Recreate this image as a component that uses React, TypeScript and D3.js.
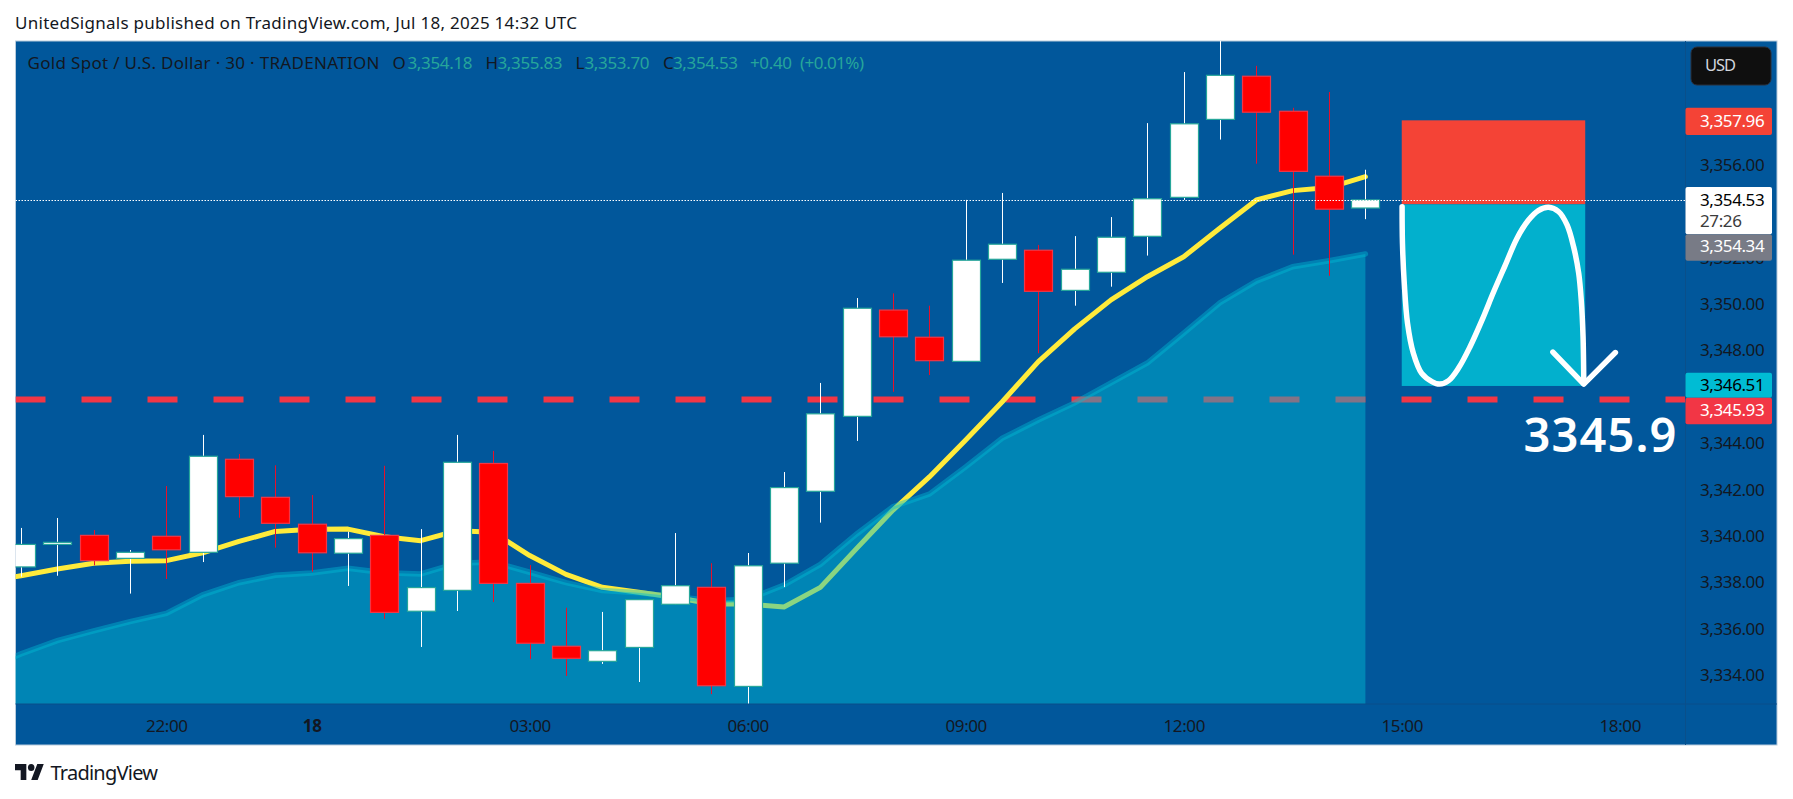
import * as d3 from 'd3'
import { useEffect, useRef } from 'react'

const WIDTH = 1793
const HEIGHT = 799
const FONT = '"Noto Sans", sans-serif'

// 30 min bars, index 0 = 20:00 on Jul 17
const opens = [3338.71, 3339.68, 3340.07, 3339.08, 3340.03, 3339.34, 3343.35, 3341.71, 3340.55, 3339.30, 3340.07, 3336.80, 3337.70, 3343.17, 3338.00, 3335.29, 3334.64, 3335.24, 3337.10, 3337.83, 3333.56, 3338.87, 3341.97, 3345.20, 3349.78, 3348.61, 3347.57, 3351.97, 3352.36, 3350.63, 3351.41, 3352.96, 3354.64, 3358.00, 3359.86, 3358.35, 3355.55, 3354.18]
const highs = [3340.39, 3340.82, 3340.30, 3339.44, 3342.20, 3344.40, 3343.58, 3343.09, 3341.81, 3340.23, 3343.07, 3340.34, 3344.40, 3343.71, 3338.79, 3336.95, 3336.77, 3337.30, 3340.17, 3338.87, 3339.31, 3342.80, 3346.64, 3350.30, 3350.50, 3349.97, 3354.53, 3354.83, 3352.59, 3352.97, 3353.79, 3357.84, 3360.04, 3361.60, 3360.31, 3358.50, 3359.18, 3355.83]
const lows = [3338.29, 3338.33, 3338.78, 3337.56, 3338.19, 3338.92, 3340.83, 3339.54, 3338.51, 3337.89, 3336.47, 3335.26, 3336.81, 3337.20, 3334.74, 3334.01, 3334.53, 3333.75, 3337.10, 3333.23, 3332.80, 3337.84, 3340.62, 3344.14, 3346.26, 3346.98, 3347.57, 3350.95, 3347.92, 3349.97, 3350.79, 3352.13, 3354.53, 3357.13, 3356.09, 3352.17, 3351.26, 3353.70]
const closes = [3339.68, 3339.77, 3338.98, 3339.34, 3339.45, 3343.48, 3341.74, 3340.59, 3339.32, 3339.93, 3336.75, 3337.82, 3343.22, 3338.00, 3335.42, 3334.77, 3335.10, 3337.30, 3337.90, 3333.59, 3338.76, 3342.13, 3345.31, 3349.86, 3348.63, 3347.60, 3351.93, 3352.62, 3350.59, 3351.54, 3352.92, 3354.58, 3357.81, 3359.90, 3358.31, 3355.76, 3354.13, 3354.53]

// both averages start one bar before the first candle, the pane cuts them off
const emaFast = [3338.05, 3338.33, 3338.62, 3338.87, 3338.95, 3338.98, 3339.32, 3339.81, 3340.24, 3340.33, 3340.34, 3340.01, 3339.84, 3340.27, 3340.20, 3339.20, 3338.39, 3337.83, 3337.62, 3337.40, 3337.11, 3337.11, 3336.98, 3337.83, 3339.51, 3341.16, 3342.59, 3344.18, 3345.82, 3347.56, 3348.97, 3350.22, 3351.22, 3352.08, 3353.32, 3354.53, 3354.93, 3355.06, 3355.53]
const emaSlow = [3334.27, 3334.96, 3335.53, 3335.95, 3336.35, 3336.71, 3337.51, 3338.03, 3338.35, 3338.45, 3338.65, 3338.46, 3338.41, 3338.87, 3338.92, 3338.48, 3338.03, 3337.69, 3337.60, 3337.43, 3337.26, 3337.31, 3337.93, 3338.82, 3340.13, 3341.31, 3341.85, 3343.02, 3344.25, 3345.04, 3345.78, 3346.64, 3347.50, 3348.79, 3350.10, 3351.03, 3351.65, 3351.91, 3352.20]

// 3354 and 3346 sit behind the price labels
const priceTicks = [3334, 3336, 3338, 3340, 3342, 3344, 3348, 3350, 3352, 3356]
const timeTickBars = [4, 8, 14, 20, 26, 32, 38, 44]
const timeTickLabels = ['22:00', '18', '03:00', '06:00', '09:00', '12:00', '15:00', '18:00']

const lastPrice = 3354.53
const supportPrice = 3345.93
const stopPrice = 3357.96
const entryPrice = 3354.34
const targetPrice = 3346.51
const boxBars = [38, 43.05]

// hand drawn path on top of the position box
const brushBars = [38.01, 38.02, 38.07, 38.16, 38.32, 38.55, 38.83, 39.04, 39.29, 39.56, 39.88, 40.21, 40.53, 40.85, 41.17, 41.49, 41.76, 42.04, 42.32, 42.55, 42.73, 42.87, 42.94, 42.99, 43.01]
const brushPrices = [3354.24, 3352.66, 3350.93, 3349.21, 3347.92, 3347.05, 3346.70, 3346.59, 3346.74, 3347.27, 3348.20, 3349.35, 3350.57, 3351.72, 3352.87, 3353.66, 3354.07, 3354.21, 3354.02, 3353.45, 3352.51, 3351.37, 3350.22, 3348.64, 3346.62]
const arrowBars = [42.16, 43.01, 43.88]
const arrowPrices = [3347.97, 3346.59, 3347.95]

const drawChart = (el: SVGSVGElement) => {
  const left = 15.5
  const top = 41
  const paneRight = 1685.5
  const paneBottom = 704
  const right = 1777
  const bottom = 745

  const svg = d3.select(el)
  svg.selectAll('*').remove()

  const x = d3.scaleLinear().domain([0, 37]).range([21, 1365.4])
  const y = d3.scaleLinear().domain([3334, 3356]).range([676.2, 165.8])

  svg.append('rect').attr('width', WIDTH).attr('height', HEIGHT).attr('fill', '#ffffff')
  svg.append('rect')
    .attr('x', left).attr('y', top)
    .attr('width', right - left).attr('height', bottom - top)
    .attr('fill', '#01579b')
    .attr('stroke', '#b8cbdc')

  svg.append('defs').append('clipPath').attr('id', 'pane')
    .append('rect')
    .attr('x', left).attr('y', top)
    .attr('width', paneRight - left).attr('height', paneBottom - top)

  const pane = svg.append('g').attr('clip-path', 'url(#pane)')

  // red level, goes under the area so it greys out there
  pane.append('line')
    .attr('x1', left).attr('x2', paneRight)
    .attr('y1', y(supportPrice)).attr('y2', y(supportPrice))
    .attr('stroke', '#f23645')
    .attr('stroke-width', 6)
    .attr('stroke-dasharray', '30 36')

  const line = d3.line<number>()
    .x((_, i) => x(i - 1))
    .y((d) => y(d))

  pane.append('path')
    .attr('d', line(emaFast))
    .attr('fill', 'none')
    .attr('stroke', '#ffeb3b')
    .attr('stroke-width', 5)
    .attr('stroke-linejoin', 'round')
    .attr('stroke-linecap', 'round')

  const area = d3.area<number>()
    .x((_, i) => x(i - 1))
    .y0(paneBottom)
    .y1((d) => y(d))

  pane.append('path')
    .attr('d', area(emaSlow))
    .attr('fill', '#00bcd4')
    .attr('fill-opacity', 0.46)

  pane.append('path')
    .attr('d', line(emaSlow))
    .attr('fill', 'none')
    .attr('stroke', '#00bcd4')
    .attr('stroke-opacity', 0.42)
    .attr('stroke-width', 5.5)
    .attr('stroke-linecap', 'round')

  // position box
  pane.append('rect')
    .attr('x', x(boxBars[0])).attr('width', x(boxBars[1]) - x(boxBars[0]))
    .attr('y', y(stopPrice)).attr('height', y(entryPrice) - y(stopPrice))
    .attr('fill', '#f44336')
  pane.append('rect')
    .attr('x', x(boxBars[0])).attr('width', x(boxBars[1]) - x(boxBars[0]))
    .attr('y', y(entryPrice)).attr('height', y(targetPrice) - y(entryPrice))
    .attr('fill', '#02b0cd')

  // candles
  const bars = d3.range(opens.length)
  const isUp = (i: number) => closes[i] >= opens[i]

  pane.append('g').selectAll('line')
    .data(bars)
    .enter()
    .append('line')
    .attr('x1', (i) => Math.round(x(i)) + 0.5)
    .attr('x2', (i) => Math.round(x(i)) + 0.5)
    .attr('y1', (i) => y(highs[i]))
    .attr('y2', (i) => y(lows[i]))
    .attr('stroke', (i) => (isUp(i) ? '#ffffff' : '#e8102a'))

  pane.append('g').selectAll('rect')
    .data(bars)
    .enter()
    .append('rect')
    .attr('x', (i) => Math.round(x(i)) - 13.5)
    .attr('width', 28)
    .attr('y', (i) => y(Math.max(opens[i], closes[i])))
    .attr('height', (i) => Math.abs(y(opens[i]) - y(closes[i])))
    .attr('fill', (i) => (isUp(i) ? '#ffffff' : '#ff0000'))
    .attr('stroke', (i) => (isUp(i) ? '#26a69a' : '#f23645'))
    .attr('stroke-width', 1.2)

  // last price dots run over the candles and the box
  pane.append('line')
    .attr('x1', left).attr('x2', paneRight)
    .attr('y1', 200.5).attr('y2', 200.5)
    .attr('stroke', '#ffffff')
    .attr('stroke-dasharray', '1.5 1.5')

  // brush + arrow
  const brush = d3.line<number>()
    .x((d) => x(d))
    .y((_, i) => y(brushPrices[i]))
    .curve(d3.curveCatmullRom)
  pane.append('path')
    .attr('d', brush(brushBars))
    .attr('fill', 'none')
    .attr('stroke', '#ffffff')
    .attr('stroke-width', 5.5)
    .attr('stroke-linecap', 'round')

  const arrow = d3.line<number>()
    .x((d) => x(d))
    .y((_, i) => y(arrowPrices[i]))
  pane.append('path')
    .attr('d', arrow(arrowBars))
    .attr('fill', 'none')
    .attr('stroke', '#ffffff')
    .attr('stroke-width', 5.5)
    .attr('stroke-linecap', 'round')
    .attr('stroke-linejoin', 'round')

  svg.append('text')
    .attr('x', 1523.5).attr('y', 452)
    .attr('font-family', FONT)
    .attr('font-size', 47)
    .attr('font-weight', 600)
    .attr('textLength', 153)
    .attr('fill', '#ffffff')
    .text('3345.9')

  // axis separators
  svg.append('line')
    .attr('x1', paneRight).attr('x2', paneRight)
    .attr('y1', top).attr('y2', bottom)
    .attr('stroke', '#0a4f8a')
  svg.append('line')
    .attr('x1', left).attr('x2', right)
    .attr('y1', paneBottom).attr('y2', paneBottom)
    .attr('stroke', '#0a4f8a')

  // axes
  const yAxis = svg.append('g')
    .attr('transform', 'translate(1700,-1)')
    .call(d3.axisRight(y).tickValues(priceTicks).tickSize(0).tickPadding(0).tickFormat((d) => d3.format(',.2f')(d as number)))
  const xAxis = svg.append('g')
    .attr('transform', `translate(0,${paneBottom})`)
    .call(d3.axisBottom(x).tickValues(timeTickBars).tickSize(0).tickPadding(16).tickFormat((_, i) => timeTickLabels[i]))
  yAxis.select('.domain').remove()
  xAxis.select('.domain').remove()
  for (const axis of [yAxis, xAxis]) {
    axis.selectAll('text')
      .attr('font-family', FONT)
      .attr('font-size', 17)
      .attr('letter-spacing', -0.4)
      .attr('fill', '#131722')
  }
  xAxis.selectAll('text')
    .attr('font-weight', (_, i) => (timeTickLabels[i] === '18' ? 700 : 400))

  // price labels
  const labelX = paneRight
  const labelW = 86.5
  const priceLabels = [
    { t: 107.7, h: 27.3, fill: '#f44336', color: '#ffffff', text: d3.format(',.2f')(stopPrice), c: 121.5 },
    { t: 187, h: 47.3, fill: '#ffffff', color: '#000000', text: d3.format(',.2f')(lastPrice), c: 200 },
    { t: 234.3, h: 26.4, fill: '#787b86', color: '#ffffff', text: d3.format(',.2f')(entryPrice), c: 246 },
    { t: 372.7, h: 25, fill: '#00bcd4', color: '#000000', text: d3.format(',.2f')(targetPrice), c: 385.5 },
    { t: 397.7, h: 26.6, fill: '#f23645', color: '#ffffff', text: d3.format(',.2f')(supportPrice), c: 410.5 },
  ]
  const labels = svg.append('g')
  labels.selectAll('rect')
    .data(priceLabels)
    .enter()
    .append('rect')
    .attr('x', labelX).attr('y', (d) => d.t)
    .attr('width', labelW).attr('height', (d) => d.h)
    .attr('rx', 2)
    .attr('fill', (d) => d.fill)
  labels.selectAll('text')
    .data(priceLabels)
    .enter()
    .append('text')
    .attr('x', 1700).attr('y', (d) => d.c)
    .attr('dy', '0.35em')
    .attr('font-family', FONT)
    .attr('font-size', 17)
    .attr('letter-spacing', -0.4)
    .attr('fill', (d) => d.color)
    .text((d) => d.text)
  labels.append('text')
    .attr('x', 1700).attr('y', 221).attr('dy', '0.35em')
    .attr('font-family', FONT)
    .attr('font-size', 17)
    .attr('letter-spacing', -0.4)
    .attr('fill', '#3c3c3c')
    .text('27:26')

  // USD button
  svg.append('rect')
    .attr('x', 1691).attr('y', 47)
    .attr('width', 80).attr('height', 38)
    .attr('rx', 6)
    .attr('fill', '#0f0f0f')
    .attr('stroke', '#2a2e39')

  const addText = (tx: number, ty: number, str: string, fill: string, size: number, len?: number) => {
    const t = svg.append('text')
      .attr('x', tx).attr('y', ty).attr('dy', '0.35em')
      .attr('font-family', FONT)
      .attr('font-size', size)
      .attr('fill', fill)
      .text(str)
    if (len) t.attr('textLength', len)
    return t
  }

  addText(1705, 65, 'USD', '#d1d4dc', 16.5, 31)

  // header + legend
  addText(15, 23, 'UnitedSignals published on TradingView.com, Jul 18, 2025 14:32 UTC', '#131722', 17, 562)
  addText(27.5, 63, 'Gold Spot / U.S. Dollar · 30 · TRADENATION', '#131722', 17, 352)
  const green = '#26a69a'
  addText(392.5, 63, 'O', '#131722', 17)
  addText(407.5, 63, d3.format(',.2f')(opens[37]), green, 17, 65)
  addText(485.5, 63, 'H', '#131722', 17)
  addText(497.5, 63, d3.format(',.2f')(highs[37]), green, 17, 65)
  addText(575.5, 63, 'L', '#131722', 17)
  addText(584.5, 63, d3.format(',.2f')(lows[37]), green, 17, 65)
  addText(663, 63, 'C', '#131722', 17)
  addText(673, 63, d3.format(',.2f')(closes[37]), green, 17, 65)
  addText(750, 63, '+0.40', green, 17, 42)
  addText(800, 63, '(+0.01%)', green, 17, 64)

  // footer logo
  const logo = svg.append('g')
    .attr('transform', 'translate(15,764) scale(0.81,0.89) translate(0,-4)')
    .attr('fill', '#131722')
  logo.append('path').attr('d', 'M14 22H7V11H0V4h14v18zM28 22h-8l7.5-18h8L28 22z')
  logo.append('circle').attr('cx', 20).attr('cy', 8).attr('r', 4)
  addText(50.5, 773, 'TradingView', '#131722', 20, 107.5)
}

export default function App() {
  const ref = useRef<SVGSVGElement>(null)

  useEffect(() => {
    if (ref.current) drawChart(ref.current)
  }, [])

  return <svg
    ref={ref}
    width={WIDTH}
    height={HEIGHT}
    viewBox={`0 0 ${WIDTH} ${HEIGHT}`}
    style={{ position: 'absolute', left: 0, top: 0, display: 'block' }}
  />
}
